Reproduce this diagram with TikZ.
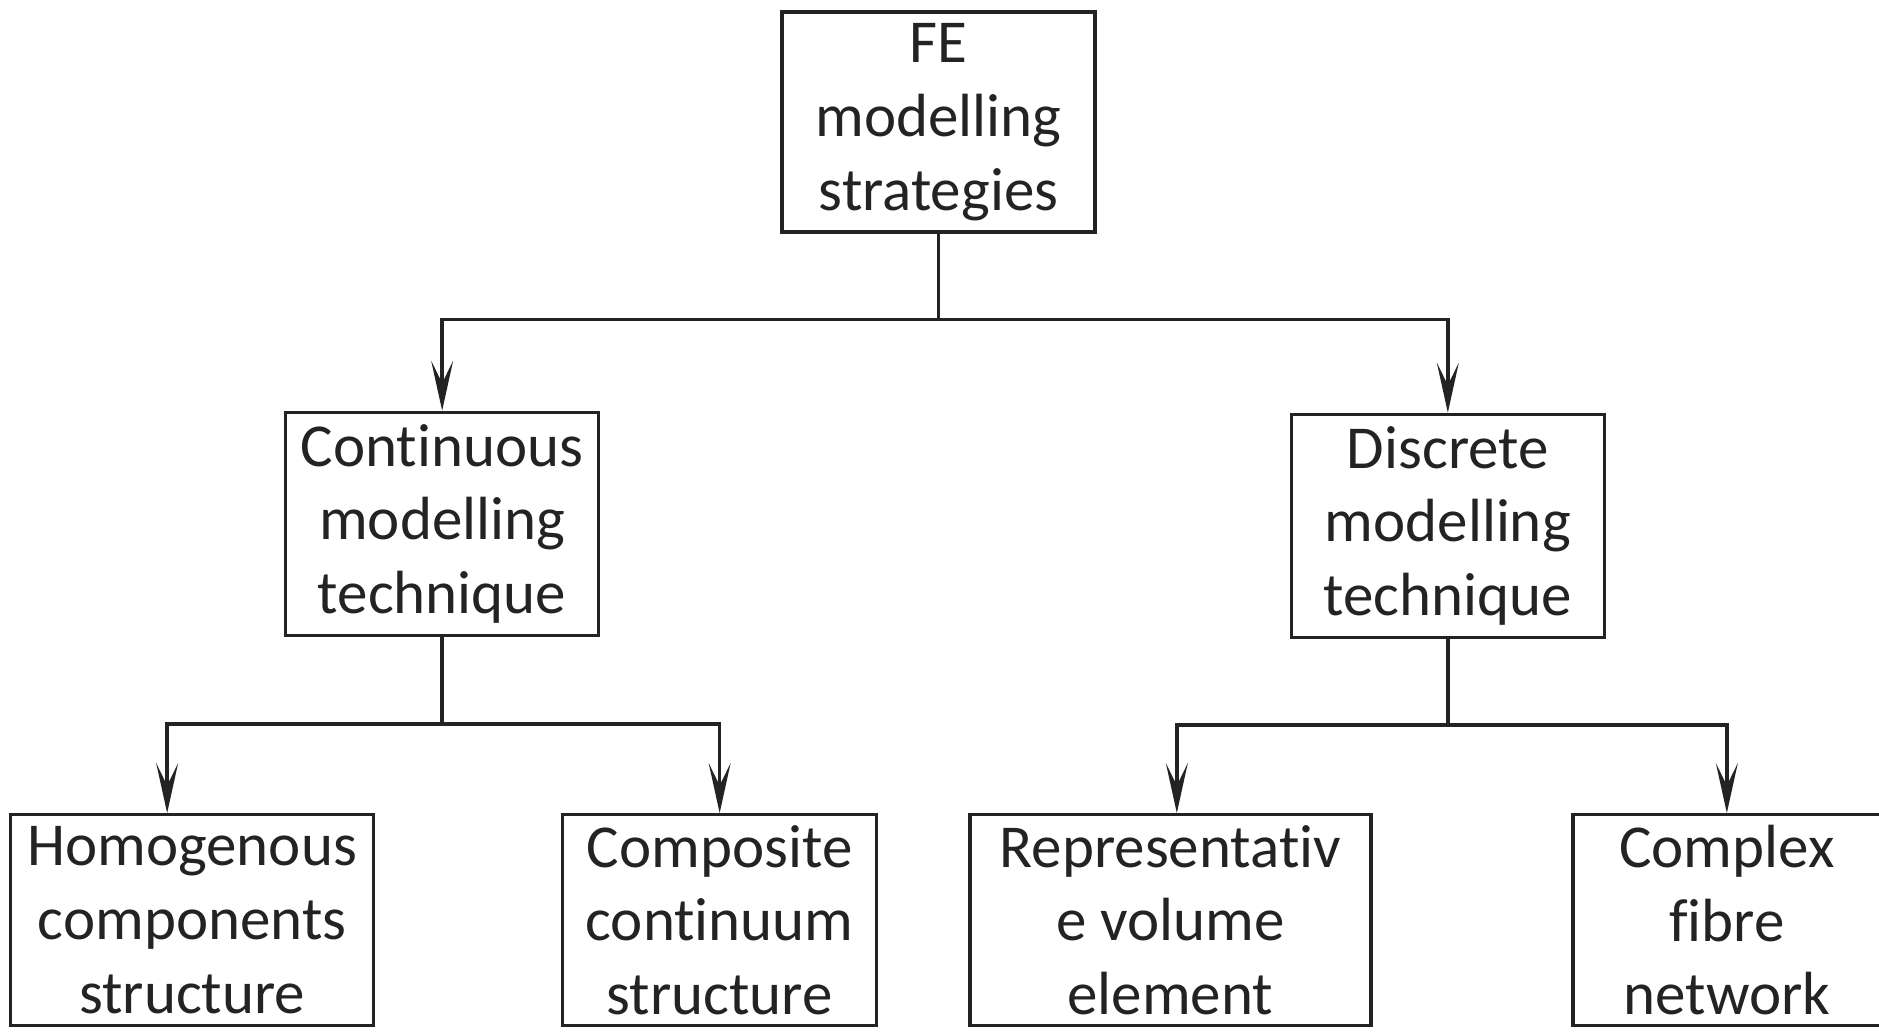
\documentclass[tikz,border=0pt]{standalone}
\usepackage{fontspec}
\setmainfont{Carlito}[Ligatures=NoCommon]
\usetikzlibrary{arrows.meta, positioning, calc}
\definecolor{linegray}{RGB}{35,35,35}

\begin{document}
\begin{tikzpicture}[
  node distance=3.6cm and 3.6cm,
  box/.style={draw=linegray, line width=1.9pt, text=linegray, align=center, font=\fontsize{34.7}{42}\selectfont, inner sep=2pt, minimum height=4.4cm},
  topbox/.style={box, minimum width=6.26cm},
  midbox/.style={box, minimum width=6.26cm, minimum height=4.46cm},
  leafbox/.style={box, inner sep=1pt, minimum height=4.22cm},
  link/.style={draw=linegray, line width=1.9pt},
  arrow/.style={link, -{Stealth[length=1cm, width=0.44cm, inset=0.45cm]}},
]
\useasboundingbox (-18.77,2.44) rectangle (18.81,-18.24);

\node[topbox] (root) at (0,0) {FE\\modelling\\strategies};

\node[midbox, below left=3.54cm and 3.6cm of root] (cont) {Continuous\\modelling\\technique};
\node[midbox, below right=3.58cm and 3.86cm of root] (disc) {Discrete\\modelling\\technique};

\node[leafbox, minimum width=7.26cm, below=3.52cm of cont, xshift=-5cm] (hom) {Homogenous\\components\\structure};
\node[leafbox, minimum width=6.28cm, below=3.52cm of cont, xshift=5.55cm] (comp) {Composite\\continuum\\structure};
\node[leafbox, minimum width=8.02cm, below=3.48cm of disc, xshift=-5.55cm] (rve) {Representativ\\e volume\\element};
\node[leafbox, minimum width=6.16cm, below=3.48cm of disc, xshift=5.58cm] (cfn) {Complex\\fibre\\network};

% branch points
\coordinate (j0) at ($(root.south)+(0,-1.72)$);
\coordinate (j1) at ($(cont.south)+(0,-1.74)$);
\coordinate (j2) at ($(disc.south)+(0,-1.72)$);

\draw[link] (root) -- (j0);
\draw[arrow] (j0) -| (cont);
\draw[arrow] (j0) -| (disc);

\draw[link] (cont) -- (j1);
\draw[arrow] (j1) -| ([xshift=-0.5cm]hom.north);
\draw[arrow] (j1) -| (comp);

\draw[link] (disc) -- (j2);
\draw[arrow] (j2) -| ([xshift=0.13cm]rve.north);
\draw[arrow] (j2) -| (cfn);
\end{tikzpicture}
\end{document}
